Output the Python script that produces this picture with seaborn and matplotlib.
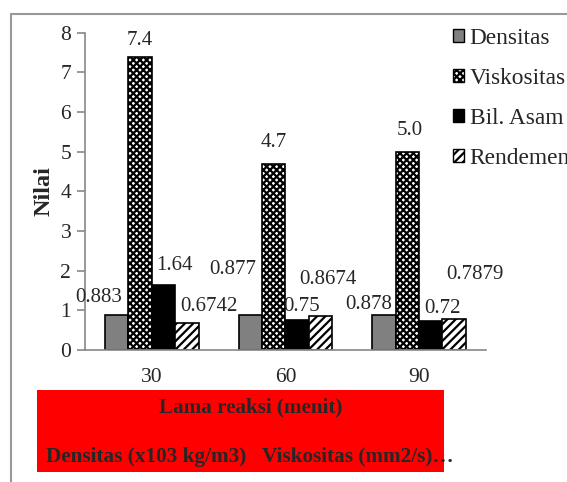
import pandas as pd
import seaborn as sns
import matplotlib.pyplot as plt
from matplotlib.patches import Rectangle, Patch

# data
waktu = ['30', '60', '90']
parameter = ['Densitas', 'Viskositas', 'Bil. Asam', 'Rendemen']
densitas = [0.883, 0.877, 0.878]
viskositas = [7.4, 4.7, 5.0]
bil_asam = [1.64, 0.75, 0.72]
rendemen = [0.6742, 0.8674, 0.7879]
label_text = [['0.883', '0.877', '0.878'],
              ['7.4', '4.7', '5.0'],
              ['1.64', '0.75', '0.72'],
              ['0.6742', '0.8674', '0.7879']]

# label offsets (pixels) from the bar top, like the Excel original
label_offsets = [[(-18, 17), (-18, 46), (-15, 11)],
                 [(0, 16), (0, 21), (2, 21)],
                 [(11, 19), (4, 14), (12, 13)],
                 [(22, 17), (7, 36), (21, 44)]]

rows = []
for name, vals in zip(parameter, [densitas, viskositas, bil_asam, rendemen]):
    for w, v in zip(waktu, vals):
        rows.append({'waktu': w, 'parameter': name, 'nilai': v})
df = pd.DataFrame(rows)

sns.set_theme(style='white')
plt.rcParams['font.family'] = ['Liberation Serif', 'DejaVu Serif']
plt.rcParams['hatch.linewidth'] = 1.6

fig = plt.figure(figsize=(5.67, 4.82), dpi=100)
ax = fig.add_axes([0.150, 0.274, 0.707, 0.658])

colors = ['#808080', 'white', 'black', 'white']
ax = sns.barplot(data=df, x='waktu', y='nilai', hue='parameter', palette=colors,
                 edgecolor='black', linewidth=1.2, width=0.70, ax=ax, legend=False)

hatches = [None, 'xxxxx', None, '////']
for cont, h, labs, offs in zip(ax.containers, hatches, label_text, label_offsets):
    for bar, lab, (dx, dy) in zip(cont, labs, offs):
        if h:
            bar.set_hatch(h)
        ax.annotate(lab, xy=(bar.get_x() + bar.get_width() / 2, bar.get_height()),
                    xytext=(dx, dy), textcoords='offset pixels',
                    ha='center', va='center', fontsize=15)

ax.set_ylim(0, 8)
ax.set_xlim(-0.5, 2.5)
ax.set_yticks(range(0, 9))
ax.set_xticks([-0.5, 0.5, 1.5, 2.5], minor=True)
ax.tick_params(axis='x', which='major', length=0, labelsize=15.5, pad=13)
ax.tick_params(axis='x', which='minor', length=6, color='#888888', width=1.2, direction='out')
ax.tick_params(axis='y', length=6, color='#888888', width=1.2, direction='out', labelsize=15.5, pad=4)
ax.tick_params(bottom=True, left=True)
for s in ['top', 'right']:
    ax.spines[s].set_visible(False)
for s in ['left', 'bottom']:
    ax.spines[s].set_color('#888888')
    ax.spines[s].set_linewidth(1.2)

ax.set_xlabel('')
ax.set_ylabel('Nilai', fontsize=17.5, fontweight='bold', labelpad=4)

# legend on the right, cut by the figure edge as in the original
handles = [Patch(facecolor=c, edgecolor='black', hatch=h, linewidth=1)
           for c, h in zip(colors, hatches)]
fig.legend(handles, parameter, loc='upper left', bbox_to_anchor=(0.783, 0.962),
           frameon=False, fontsize=16.8, handlelength=0.45, handleheight=0.45,
           handletextpad=0.25, labelspacing=0.82, borderaxespad=0)

# red box holding the axis title
fig.patches.append(Rectangle((37 / 567, 1 - 472 / 482), 407 / 567, 82 / 482,
                             transform=fig.transFigure, facecolor='#ff0000',
                             edgecolor='none', zorder=0))
fig.text(251 / 567, 1 - 407 / 482, 'Lama reaksi (menit)', ha='center', va='center',
         fontsize=15.2, fontweight='bold')
fig.text(46 / 567, 1 - 457 / 482, 'Densitas (x103 kg/m3)   Viskositas (mm2/s)…',
         ha='left', va='center', fontsize=15.3, fontweight='bold')

# chart area frame
fig.patches.append(Rectangle((11 / 567, -0.05), 1.0, 1 - 14 / 482 + 0.05,
                             transform=fig.transFigure, facecolor='none',
                             edgecolor='#999999', linewidth=1.5, zorder=0))

fig.savefig('out.png', dpi=100)
